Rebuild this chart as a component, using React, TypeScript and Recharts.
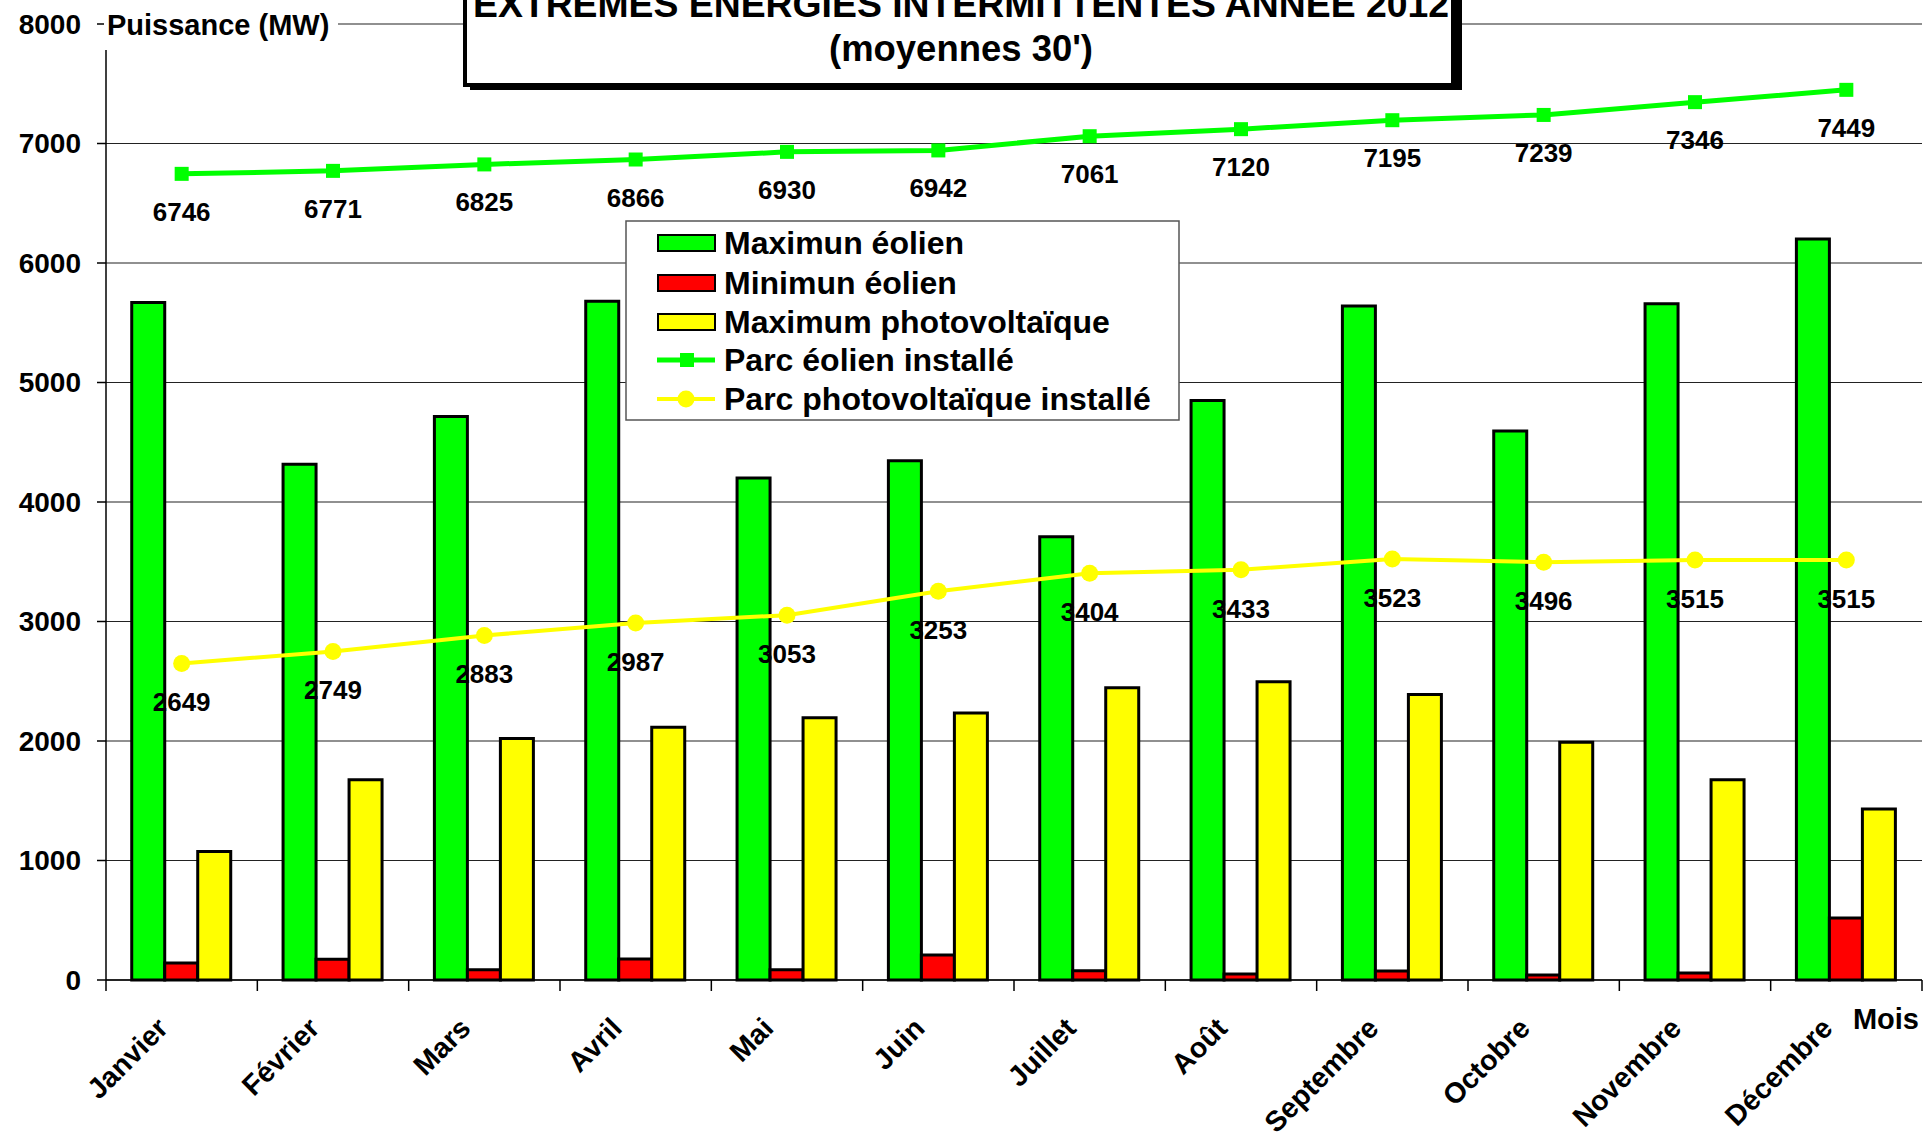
import React from 'react';
import { ComposedChart, Bar, Line, XAxis, YAxis, CartesianGrid, Legend, LabelList } from 'recharts';

const months = ['Janvier', 'Février', 'Mars', 'Avril', 'Mai', 'Juin', 'Juillet', 'Août', 'Septembre', 'Octobre', 'Novembre', 'Décembre'];
const maxEolien = [5670, 4315, 4715, 5680, 4200, 4345, 3710, 4850, 5640, 4595, 5660, 6200];
const minEolien = [142, 173, 86, 176, 86, 209, 78, 50, 75, 42, 59, 519];
const maxPV = [1075, 1675, 2020, 2115, 2195, 2235, 2445, 2495, 2390, 1990, 1675, 1430];
const parcEolien = [6746, 6771, 6825, 6866, 6930, 6942, 7061, 7120, 7195, 7239, 7346, 7449];
const parcPV = [2649, 2749, 2883, 2987, 3053, 3253, 3404, 3433, 3523, 3496, 3515, 3515];
const yTicks = [0, 1000, 2000, 3000, 4000, 5000, 6000, 7000, 8000];

const seriesKeys = ['maxE', 'minE', 'maxPV', 'parcE', 'parcPV'];
const seriesNames: Record<string, string> = {
  maxE: 'Maximun éolien',
  minE: 'Minimun éolien',
  maxPV: 'Maximum photovoltaïque',
  parcE: 'Parc éolien installé',
  parcPV: 'Parc photovoltaïque installé',
};
const titleLine1 = 'EXTREMES ENERGIES INTERMITTENTES ANNEE 2012';
const titleLine2 = "(moyennes 30')";
const yAxisTitle = 'Puissance (MW)';
const xAxisTitle = 'Mois';

const data = months.map((m, i) => ({
  month: m,
  maxE: maxEolien[i],
  minE: minEolien[i],
  maxPV: maxPV[i],
  parcE: parcEolien[i],
  parcPV: parcPV[i],
}));

const FONT = '"Liberation Sans", Arial, Helvetica, sans-serif';
const GREEN = '#00ff00';
const RED = '#ff0000';
const YELLOW = '#ffff00';
const seriesColors: Record<string, string> = { maxE: GREEN, minE: RED, maxPV: YELLOW, parcE: GREEN, parcPV: YELLOW };

const MonthTick = (props: any) => {
  const { x, y, payload, index } = props;
  const half = payload && typeof payload.offset === 'number' && payload.offset > 0 ? payload.offset : 75.7;
  const last = index === months.length - 1;
  return (
    <g>
      <line x1={x - half} y1={y} x2={x - half} y2={y + 11} stroke="#000" strokeWidth={1.5} />
      {last && <line x1={x + half} y1={y} x2={x + half} y2={y + 11} stroke="#000" strokeWidth={1.5} />}
      <text
        transform={`translate(${x - 12},${y + 50}) rotate(-45)`}
        textAnchor="end"
        fontFamily={FONT}
        fontWeight="bold"
        fontSize={28.5}
        fill="#000"
      >
        {payload.value}
      </text>
    </g>
  );
};

const makeLabel = (offset: number) => (props: any) => {
  const { x, y, value } = props;
  return (
    <text x={x} y={y + offset} textAnchor="middle" fontFamily={FONT} fontWeight="bold" fontSize={26} fill="#000">
      {value}
    </text>
  );
};

const SquareDot = (props: any) => {
  const { cx, cy, index } = props;
  return <rect key={`sq-${index}`} x={cx - 7} y={cy - 7} width={14} height={14} fill={GREEN} />;
};
const CircleDot = (props: any) => {
  const { cx, cy, index } = props;
  return <circle key={`ci-${index}`} cx={cx} cy={cy} r={8.5} fill={YELLOW} />;
};

const renderLegend = (props: any) => {
  const payload: any[] = (props && props.payload) || [];
  const rows = [23, 63, 102, 140, 179];
  return (
    <svg width={556} height={202} style={{ display: 'block' }}>
      <rect x={1} y={1} width={553} height={199} fill="#fff" stroke="#555" strokeWidth={1.5} />
      {seriesKeys.map((key, i) => {
        const entry = payload.find((p: any) => p && p.dataKey === key);
        const label = entry && entry.value ? entry.value : seriesNames[key];
        const cy = rows[i];
        const color = seriesColors[key];
        let sym;
        if (i < 3) {
          sym = <rect x={33} y={cy - 8} width={57} height={16} fill={color} stroke="#000" strokeWidth={2} />;
        } else if (i === 3) {
          sym = (
            <g>
              <line x1={32} y1={cy} x2={90} y2={cy} stroke={color} strokeWidth={5} />
              <rect x={55} y={cy - 7} width={14} height={14} fill={color} />
            </g>
          );
        } else {
          sym = (
            <g>
              <line x1={32} y1={cy} x2={90} y2={cy} stroke={color} strokeWidth={4} />
              <circle cx={61} cy={cy} r={8.5} fill={color} />
            </g>
          );
        }
        return (
          <g key={key}>
            {sym}
            <text x={99} y={cy + 11} fontFamily={FONT} fontWeight="bold" fontSize={32} fill="#000">
              {label}
            </text>
          </g>
        );
      })}
    </svg>
  );
};

export default function App() {
  return (
    <div style={{ position: 'absolute', left: 0, top: 0, width: 1926, height: 1139, background: '#fff' }}>
      <ComposedChart
        width={1926}
        height={1139}
        data={data}
        margin={{ top: 24, right: 4, left: 0, bottom: 0 }}
        barCategoryGap="17%"
        barGap={0}
      >
        <CartesianGrid horizontal vertical={false} stroke="#222" strokeWidth={1.2} />
        <XAxis
          dataKey="month"
          height={159}
          interval={0}
          tickSize={0}
          tickMargin={0}
          tickLine={false}
          axisLine={{ stroke: '#000', strokeWidth: 1.5 }}
          tick={<MonthTick />}
        />
        <YAxis
          width={106}
          domain={[0, 8000]}
          ticks={yTicks}
          interval={0}
          tickSize={9}
          tickMargin={16}
          axisLine={{ stroke: '#000', strokeWidth: 1.5 }}
          tickLine={{ stroke: '#000', strokeWidth: 1.5 }}
          tick={{ fontFamily: FONT, fontWeight: 'bold', fontSize: 28, fill: '#000' }}
        />
        <Legend
          layout="vertical"
          align="center"
          verticalAlign="middle"
          content={renderLegend}
          wrapperStyle={{ position: 'absolute', left: 625, top: 220, width: 556, height: 202 }}
        />
        <Bar dataKey="maxE" name={seriesNames.maxE} fill={GREEN} stroke="#000" strokeWidth={3} isAnimationActive={false} />
        <Bar dataKey="minE" name={seriesNames.minE} fill={RED} stroke="#000" strokeWidth={3} isAnimationActive={false} />
        <Bar dataKey="maxPV" name={seriesNames.maxPV} fill={YELLOW} stroke="#000" strokeWidth={3} isAnimationActive={false} />
        <Line
          type="linear"
          dataKey="parcE"
          name={seriesNames.parcE}
          stroke={GREEN}
          strokeWidth={5}
          dot={SquareDot}
          activeDot={false}
          isAnimationActive={false}
        >
          <LabelList dataKey="parcE" content={makeLabel(47)} />
        </Line>
        <Line
          type="linear"
          dataKey="parcPV"
          name={seriesNames.parcPV}
          stroke={YELLOW}
          strokeWidth={4}
          dot={CircleDot}
          activeDot={false}
          isAnimationActive={false}
        >
          <LabelList dataKey="parcPV" content={makeLabel(48)} />
        </Line>
      </ComposedChart>
      <svg
        width={1926}
        height={1139}
        style={{ position: 'absolute', left: 0, top: 0, pointerEvents: 'none' }}
      >
        <rect x={104} y={0} width={234} height={50} fill="#fff" />
        <text x={107} y={35} fontFamily={FONT} fontWeight="bold" fontSize={29} fill="#000">
          {yAxisTitle}
        </text>
        <rect x={470} y={-10} width={992} height={100} fill="#000" />
        <rect x={465} y={-12} width={988} height={97} fill="#fff" stroke="#000" strokeWidth={4} />
        <text
          x={961}
          y={17}
          textAnchor="middle"
          fontFamily={FONT}
          fontWeight="bold"
          fontSize={37}
          fill="#000"
          textLength={976}
          lengthAdjust="spacingAndGlyphs"
        >
          {titleLine1}
        </text>
        <text
          x={961}
          y={61}
          textAnchor="middle"
          fontFamily={FONT}
          fontWeight="bold"
          fontSize={37}
          fill="#000"
          textLength={264}
          lengthAdjust="spacingAndGlyphs"
        >
          {titleLine2}
        </text>
        <text x={1919} y={1029} textAnchor="end" fontFamily={FONT} fontWeight="bold" fontSize={29} fill="#000">
          {xAxisTitle}
        </text>
      </svg>
    </div>
  );
}
